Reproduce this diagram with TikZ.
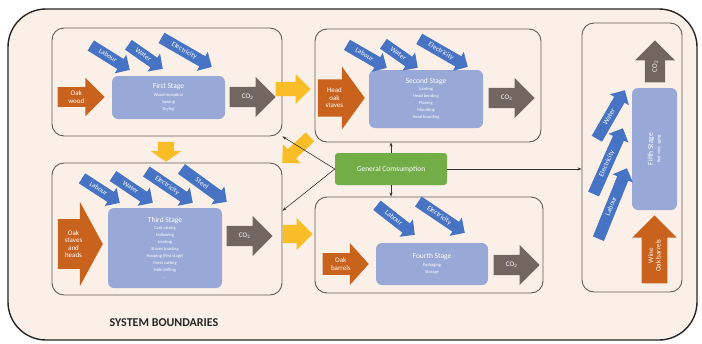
\documentclass[tikz,border=0pt]{standalone}
\usepackage{fontspec}
\setmainfont{Carlito}
\usetikzlibrary{shapes.arrows,arrows.meta}

\definecolor{bgpeach}{HTML}{FBF0E7}
\definecolor{panelgray}{HTML}{5E5B59}
\definecolor{stageblue}{HTML}{98A9D7}
\definecolor{inblue}{HTML}{4673C4}
\definecolor{rawor}{HTML}{C9621C}
\definecolor{cogray}{HTML}{726660}
\definecolor{flowyel}{HTML}{F9BE27}
\definecolor{gcgreen}{HTML}{72AD48}

\newcommand{\stagetitle}[1]{{\fontsize{7.5}{9}\selectfont #1}\\[0.5pt]}
\newcommand{\cotwo}{CO\textsubscript{2}}

\tikzset{
  boundary/.style={draw=black!85, line width=1.4pt, fill=bgpeach, rounded corners=38pt},
  panel/.style={draw=panelgray, line width=0.9pt, rounded corners=12pt, inner sep=0pt},
  stage/.style={fill=stageblue, rounded corners=6pt, text=white, align=center,
    inner sep=0pt, font=\fontsize{4.5}{7}\selectfont},
  blockarrow/.style={single arrow, inner xsep=1pt, text=white, align=center,
    font=\fontsize{7}{7.5}\selectfont, anchor=tip},
  inarrow/.style={blockarrow, fill=inblue, inner ysep=2.5pt, text height=5pt, text depth=1.5pt,
    single arrow head extend=5pt},
  rawarrow/.style={blockarrow, fill=rawor},
  coarrow/.style={blockarrow, fill=cogray, inner ysep=6.7pt, text height=5pt, text depth=1.5pt,
    minimum height=46pt, single arrow head extend=10pt},
  flow/.style={single arrow, fill=flowyel, anchor=tip, inner xsep=0pt},
  link/.style={draw=black!80, line width=0.6pt, -{Stealth[length=4pt,width=3pt]}},
}

\begin{document}
\begin{tikzpicture}[x=1pt,y=-1pt]
  \useasboundingbox (0,0) rectangle (702,343);
  \fill[white] (0,0) rectangle (702,343);
  \draw[boundary] (8,9) rectangle (697,340);

  % panels
  \node[panel, minimum width=230pt, minimum height=108pt] (p1) at (167,82) {};
  \node[panel, minimum width=226pt, minimum height=113pt] (p2) at (428,85.5) {};
  \node[panel, minimum width=230pt, minimum height=132pt] (p3) at (167,229) {};
  \node[panel, minimum width=228pt, minimum height=96pt] (p4) at (429,245) {};
  \node[panel, minimum width=100pt, minimum height=269pt] (p5) at (632,157.5) {};

  % first stage
  \node[stage, minimum width=113pt, minimum height=43pt] (s1) at (168.5,97.5)
    {\stagetitle{First Stage}Wood reception\\Sawing\\Drying};
  \node[rawarrow, inner ysep=3.5pt, single arrow head extend=9.5pt, minimum height=47pt] (oak1) at (105,97) {Oak\\wood};
  \node[coarrow] (co1) at (276,97) {\cotwo};
  \node[inarrow, rotate=-32, minimum height=46pt] (lab1) at (130,70) {Labour};
  \node[inarrow, rotate=-35, minimum height=42pt] (wat1) at (163,69) {Water};
  \node[inarrow, rotate=-30, minimum height=58pt] (ele1) at (212,67) {Electricity};

  % second stage
  \node[stage, minimum width=114pt, minimum height=58pt] (s2) at (426,99)
    {\stagetitle{Second Stage}Jointing\\Head bending\\Planing\\Moulding\\Head boarding};
  \node[rawarrow, inner ysep=8.5pt, single arrow head extend=13pt, single arrow tip angle=108,
    minimum height=47pt] (oak2) at (365,98) {Head\\oak\\staves};
  \node[coarrow] (co2) at (535,98) {\cotwo};
  \node[inarrow, rotate=-30, minimum height=46pt] (lab2) at (387,68) {Labour};
  \node[inarrow, rotate=-35, minimum height=42pt] (wat2) at (418,68) {Water};
  \node[inarrow, rotate=-30, minimum height=56pt] (ele2) at (468,67) {Electricity};

  % third stage
  \node[stage, minimum width=114pt, minimum height=80pt] (s3) at (165,248)
    {\stagetitle{Third Stage}Cask raising\\Hollowing\\Jointing\\Staves toasting\\Hooping (first stage)\\Cross cutting\\Hole drilling\\\dots};
  \node[rawarrow, inner ysep=11pt, single arrow head extend=17.5pt, single arrow tip angle=123,
    minimum height=45pt] (oak3) at (103,244) {Oak\\staves\\and\\heads};
  \node[coarrow] (co3) at (273,236) {\cotwo};
  \node[inarrow, rotate=-33, minimum height=45pt] (lab3) at (120,203) {Labour};
  \node[inarrow, rotate=-34, minimum height=48pt] (wat3) at (153,203) {Water};
  \node[inarrow, rotate=-34, minimum height=56pt] (ele3) at (193,203) {Electricity};
  \node[inarrow, rotate=-36, minimum height=56pt] (ste3) at (227,202) {Steel};

  % fourth stage
  \node[stage, minimum width=112pt, minimum height=42pt] (s4) at (432,264)
    {\stagetitle{Fourth Stage}Packaging\\Storage};
  \node[rawarrow, inner ysep=4.5pt, single arrow head extend=10pt, single arrow tip angle=96,
    minimum height=46pt] (oak4) at (369,264) {Oak\\barrels};
  \node[coarrow] (co4) at (540,265) {\cotwo};
  \node[inarrow, rotate=-38, minimum height=48pt] (lab4) at (415,235) {Labour};
  \node[inarrow, rotate=-34, minimum height=56pt] (ele4) at (465,233) {Electricity};

  % fifth stage
  \node[stage, rotate=90, minimum width=122pt, minimum height=45pt] (s5) at (654.5,149)
    {\stagetitle{Fifth Stage}Red wine aging};
  \node[rawarrow, rotate=90, inner ysep=6.5pt, single arrow head extend=9.5pt,
    minimum height=68pt] (oak5) at (654.5,215) {Wine\\Oak barrels};
  \node[coarrow, rotate=90, minimum height=42pt] (co5) at (655,40) {\cotwo};
  \node[inarrow, rotate=60, minimum height=56pt] (wat5) at (625,90) {Water};
  \node[inarrow, rotate=66, minimum height=72pt] (ele5) at (623,128) {Electricity};
  \node[inarrow, rotate=68, minimum height=76pt] (lab5) at (627,168) {Labour};

  % material flow between stages
  \node[flow, inner ysep=7pt, single arrow head extend=8pt, minimum height=35pt] (y1) at (311,89) {};
  \node[flow, rotate=-90, inner ysep=8pt, single arrow head extend=7pt, single arrow tip angle=110,
    minimum height=20pt] (y2) at (166,162) {};
  \node[flow, rotate=-137, inner ysep=6pt, single arrow head extend=7pt, minimum height=38pt] (y3) at (282,163) {};
  \node[flow, inner ysep=9pt, single arrow head extend=7pt, minimum height=30pt] (y4) at (313,234) {};

  % general consumption
  \node[fill=gcgreen, rounded corners=3pt, text=white, minimum width=112pt, minimum height=32pt,
    font=\fontsize{7.5}{9}\selectfont] (gc) at (391,169) {General Comsumption};
  \draw[link] (gc.north) -- (gc.north |- p2.south);
  \draw[link] (gc.south) -- (gc.south |- p4.north);
  \draw[link] (gc.west) -- (p1.south east);
  \draw[link] (gc.west) -- (p3.9);
  \draw[link] (gc.east) -- (gc.east -| p5.west);

  \node[font=\bfseries\fontsize{12}{14}\selectfont, text=black!85] (sb) at (164,323) {SYSTEM BOUNDARIES};
\end{tikzpicture}
\end{document}
